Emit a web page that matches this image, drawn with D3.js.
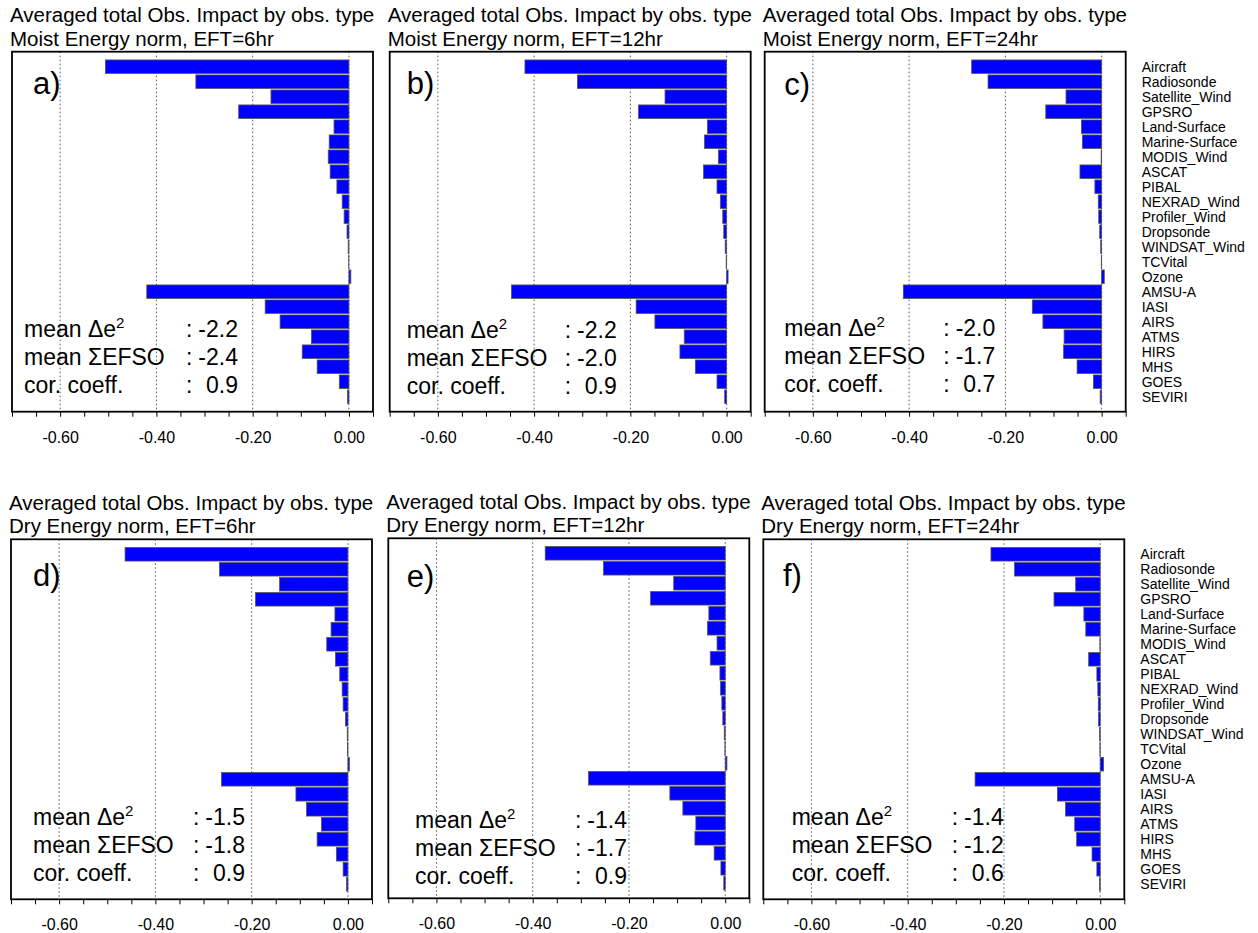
<!DOCTYPE html>
<html>
<head>
<meta charset="utf-8">
<script src="https://cdn.jsdelivr.net/npm/d3@7"></script>
<style>
  body { margin: 0; background: #fff; }
  svg { display: block; font-family: "Liberation Sans", Arial, Helvetica, sans-serif; }
</style>
</head>
<body>
<svg id="chart" width="1258" height="933"></svg>
<script>
// Observation types, top to bottom
const categories = [
  "Aircraft", "Radiosonde", "Satellite_Wind", "GPSRO", "Land-Surface",
  "Marine-Surface", "MODIS_Wind", "ASCAT", "PIBAL", "NEXRAD_Wind",
  "Profiler_Wind", "Dropsonde", "WINDSAT_Wind", "TCVital", "Ozone",
  "AMSU-A", "IASI", "AIRS", "ATMS", "HIRS", "MHS", "GOES", "SEVIRI"
];
const categoryLabels = [
  "Aircraft", "Radiosonde", "Satellite_Wind", "GPSRO", "Land-Surface",
  "Marine-Surface", "MODIS_Wind", "ASCAT", "PIBAL", "NEXRAD_Wind",
  "Profiler_Wind", "Dropsonde", "WINDSAT_Wind", "TCVital", "Ozone",
  "AMSU-A", "IASI", "AIRS", "ATMS", "HIRS", "MHS", "GOES", "SEVIRI"
];

// Averaged total observation impact per type
const impactMoist6  = [-0.506, -0.318, -0.162, -0.229, -0.031, -0.041, -0.043, -0.039, -0.025, -0.014, -0.010, -0.004, -0.0015, -0.0005, 0.004, -0.420, -0.174, -0.143, -0.078, -0.097, -0.066, -0.020, -0.003];
const impactMoist12 = [-0.419, -0.310, -0.128, -0.183, -0.040, -0.046, -0.017, -0.048, -0.020, -0.013, -0.008, -0.006, -0.003, -0.001, 0.003, -0.447, -0.188, -0.149, -0.088, -0.097, -0.065, -0.020, -0.004];
const impactMoist24 = [-0.270, -0.236, -0.074, -0.116, -0.042, -0.040, -0.001, -0.045, -0.014, -0.007, -0.006, -0.004, -0.002, -0.0007, 0.0055, -0.412, -0.144, -0.122, -0.078, -0.079, -0.051, -0.017, -0.003];
const impactDry6    = [-0.463, -0.267, -0.142, -0.192, -0.027, -0.035, -0.044, -0.026, -0.017, -0.012, -0.010, -0.005, -0.0014, -0.0007, 0.003, -0.2625, -0.108, -0.086, -0.055, -0.064, -0.024, -0.010, -0.003];
const impactDry12   = [-0.374, -0.253, -0.107, -0.155, -0.034, -0.037, -0.017, -0.031, -0.011, -0.0097, -0.007, -0.005, -0.002, -0.0007, 0.0035, -0.284, -0.115, -0.088, -0.061, -0.063, -0.023, -0.009, -0.003];
const impactDry24   = [-0.227, -0.178, -0.051, -0.096, -0.034, -0.030, -0.0007, -0.024, -0.007, -0.005, -0.004, -0.0035, -0.0014, -0.0007, 0.007, -0.260, -0.089, -0.072, -0.053, -0.049, -0.017, -0.007, -0.0014];

// Panel texts
const panelLetters = ["a)", "b)", "c)", "d)", "e)", "f)"];
const titleLine1 = "Averaged total Obs. Impact by obs. type";
const normNames = ["Moist Energy norm", "Moist Energy norm", "Moist Energy norm", "Dry Energy norm", "Dry Energy norm", "Dry Energy norm"];
const eftHours = [6, 12, 24, 6, 12, 24];

// Summary statistics
const meanDe2 = ["-2.2", "-2.2", "-2.0", "-1.5", "-1.4", "-1.4"];
const meanEFSO = ["-2.4", "-2.0", "-1.7", "-1.8", "-1.7", "-1.2"];
const corCoeff = ["0.9", "0.9", "0.7", "0.9", "0.9", "0.6"];

// X axis
const xDomain = [-0.70, 0.05];
const majorTicks = [-0.60, -0.40, -0.20, 0.00];
const majorTickLabels = ["-0.60", "-0.40", "-0.20", "0.00"];

const impacts = [impactMoist6, impactMoist12, impactMoist24, impactDry6, impactDry12, impactDry24];

// Frame placement of the six panels
const layout = [
  { left: 12.0,  top: 51.7,  statX: 12,   colonX: 174,   statY: 285, letterX: 21,   letterY: 42, showLabels: false },
  { left: 389.7, top: 51.7,  statX: 17,   colonX: 175,   statY: 286, letterX: 17,   letterY: 42, showLabels: false },
  { left: 764.7, top: 51.7,  statX: 19.6, colonX: 178.6, statY: 284, letterX: 19.6, letterY: 43, showLabels: true },
  { left: 11.0,  top: 539.3, statX: 22,   colonX: 182,   statY: 286, letterX: 22,   letterY: 47, showLabels: false },
  { left: 388.3, top: 538.3, statX: 26.7, colonX: 186.7, statY: 290, letterX: 18.4, letterY: 49, showLabels: false },
  { left: 763.3, top: 539.3, statX: 28.4, colonX: 188.4, statY: 286, letterX: 19.7, letterY: 47, showLabels: true }
];
const W = 361, H = 360;

const svg = d3.select("#chart");
svg.append("rect").attr("width", 1258).attr("height", 933).attr("fill", "#fff");

const x = d3.scaleLinear().domain(xDomain).range([0, W]);
const y = d3.scaleBand().domain(categories).range([0, H]).paddingInner(0.1).paddingOuter(0.55);

layout.forEach((L, p) => {
  const g = svg.append("g").attr("transform", `translate(${L.left},${L.top})`);

  // titles
  g.append("text").attr("x", -2).attr("y", -29.4)
    .attr("font-size", 20.5).attr("fill", "#000").text(titleLine1);
  g.append("text").attr("x", -2).attr("y", -6)
    .attr("font-size", 20.5).attr("fill", "#000")
    .text(`${normNames[p]}, EFT=${eftHours[p]}hr`);

  // dotted reference lines
  g.selectAll("line.grid").data(majorTicks).join("line")
    .attr("class", "grid")
    .attr("x1", d => x(d)).attr("x2", d => x(d))
    .attr("y1", 0).attr("y2", H)
    .attr("stroke", "#555").attr("stroke-width", 1)
    .attr("stroke-dasharray", "1.5,2.5");

  // bars
  const vals = impacts[p];
  g.selectAll("rect.bar").data(categories).join("rect")
    .attr("class", "bar")
    .attr("x", (d, i) => x(Math.min(0, vals[i])))
    .attr("width", (d, i) => Math.abs(x(vals[i]) - x(0)))
    .attr("y", d => y(d))
    .attr("height", y.bandwidth())
    .attr("fill", "#0000ff")
    .attr("stroke", "#555")
    .attr("stroke-width", 0.8);

  // frame
  g.append("rect").attr("x", 0).attr("y", 0).attr("width", W).attr("height", H)
    .attr("fill", "none").attr("stroke", "#000").attr("stroke-width", 1.8);

  // x axis: minor ticks every 0.05, labels at majors
  const axis = d3.axisBottom(x)
    .tickValues(x.ticks(15))
    .tickSize(5)
    .tickFormat(d => {
      const k = majorTicks.findIndex(m => Math.abs(m - d) < 1e-9);
      return k >= 0 ? majorTickLabels[k] : "";
    });
  const ax = g.append("g").attr("transform", `translate(0,${H})`).call(axis);
  ax.select(".domain").remove();
  ax.selectAll(".tick line").attr("stroke", "#000").attr("stroke-width", 1);
  ax.selectAll(".tick text")
    .attr("y", 25.5).attr("dy", "0.35em")
    .attr("font-size", 16).attr("fill", "#000")
    .attr("font-family", "\"Liberation Sans\", Arial, Helvetica, sans-serif");

  // panel letter
  g.append("text").attr("x", L.letterX).attr("y", L.letterY)
    .attr("font-size", 31).attr("fill", "#000").text(panelLetters[p]);

  // summary statistics
  const fs = 23, lh = 28;
  const t1 = g.append("text").attr("x", L.statX).attr("y", L.statY).attr("font-size", fs);
  t1.append("tspan").text("mean \u0394e");
  t1.append("tspan").attr("dy", -9).attr("font-size", 15).text("2");
  g.append("text").attr("x", L.statX).attr("y", L.statY + lh).attr("font-size", fs).text("mean \u03A3EFSO");
  g.append("text").attr("x", L.statX).attr("y", L.statY + 2 * lh).attr("font-size", fs).text("cor. coeff.");
  const statVals = [meanDe2[p], meanEFSO[p], corCoeff[p]];
  statVals.forEach((v, k) => {
    g.append("text").attr("x", L.colonX).attr("y", L.statY + k * lh).attr("font-size", fs).text(":");
    g.append("text").attr("x", L.colonX + 52).attr("y", L.statY + k * lh)
      .attr("font-size", fs).attr("text-anchor", "end").text(v);
  });

  // category labels on the right-hand panels
  if (L.showLabels) {
    g.selectAll("text.cat").data(categories).join("text")
      .attr("class", "cat")
      .attr("x", W + 16)
      .attr("y", d => y(d) + y.bandwidth() / 2)
      .attr("dy", "0.36em")
      .attr("font-size", 14).attr("fill", "#000")
      .text((d, i) => categoryLabels[i]);
  }
});
</script>
</body>
</html>
